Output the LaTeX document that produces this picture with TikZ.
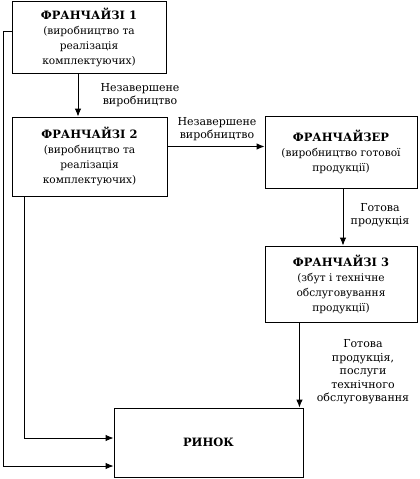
\documentclass[tikz,border=0pt]{standalone}
\usepackage{fontspec}
\setmainfont{DejaVu Serif}
\usepackage{tikz}
\usetikzlibrary{positioning}
\usetikzlibrary{arrows.meta}

\newcommand{\firmtitle}[1]{{\fontsize{11.5}{15}\selectfont\bfseries #1}}

\tikzset{
  firmbox/.style={draw,line width=0.9pt,align=center,inner sep=0pt,
    font=\fontsize{10.6}{15}\selectfont},
  flowlabel/.style={align=center,inner sep=0pt,font=\fontsize{11}{13.5}\selectfont},
}

\begin{document}
\begin{tikzpicture}[x=1pt,y=-1pt,line width=0.9pt,>={Latex[length=8pt,width=6.5pt]}]
  \useasboundingbox (0,0) rectangle (420,479);
  % boxes
  \node[firmbox,minimum width=154pt,minimum height=72pt] (fr1) at (89,37.5)
    {\firmtitle{ФРАНЧАЙЗІ 1}\\(виробництво та\\реалізація\\комплектуючих)};
  \node[firmbox,minimum width=155pt,minimum height=79pt] (fr2) at (89.5,156.5)
    {\firmtitle{ФРАНЧАЙЗІ 2}\\(виробництво та\\реалізація\\комплектуючих)};
  \node[firmbox,minimum width=152pt,minimum height=72pt] (frz) at (341,152)
    {\firmtitle{ФРАНЧАЙЗЕР}\\(виробництво готової\\продукції)};
  \node[firmbox,minimum width=152pt,minimum height=76pt] (fr3) at (341,284)
    {\firmtitle{ФРАНЧАЙЗІ 3}\\(збут і технічне\\обслуговування\\продукції)};
  \node[firmbox,minimum width=189pt,minimum height=69pt] (market) at (208.5,442.5)
    {\firmtitle{РИНОК}};
  % labels
  \node[flowlabel] (lab1) at (140,95) {Незавершене\\виробництво};
  \node[flowlabel] (lab2) at (217,129) {Незавершене\\виробництво};
  \node[flowlabel] (lab3) at (380,215) {Готова\\продукція};
  \node[flowlabel] (lab4) at (363,372) {Готова\\продукція,\\послуги\\технічного\\обслуговування};
  % connectors
  \draw[->] ([xshift=-11pt]fr1.south) -- ([xshift=-11pt]fr1.south |- fr2.north);
  \draw[->] ([yshift=10pt]fr2.east) -- ([yshift=10pt]fr2.east -| frz.west);
  \draw[->] ([xshift=2pt]frz.south) -- ([xshift=2pt]frz.south |- fr3.north);
  \coordinate (in3) at ([xshift=-4pt]market.north east);
  \draw[->] (in3 |- fr3.south) -- (in3);
  \draw[->] ([xshift=13pt]fr2.south west) |- ([yshift=4.5pt]market.west);
  \draw[->] ([yshift=6.5pt]fr1.west) -- ++(-8.5,0) |- ([yshift=-23.5pt]market.west);
\end{tikzpicture}
\end{document}
